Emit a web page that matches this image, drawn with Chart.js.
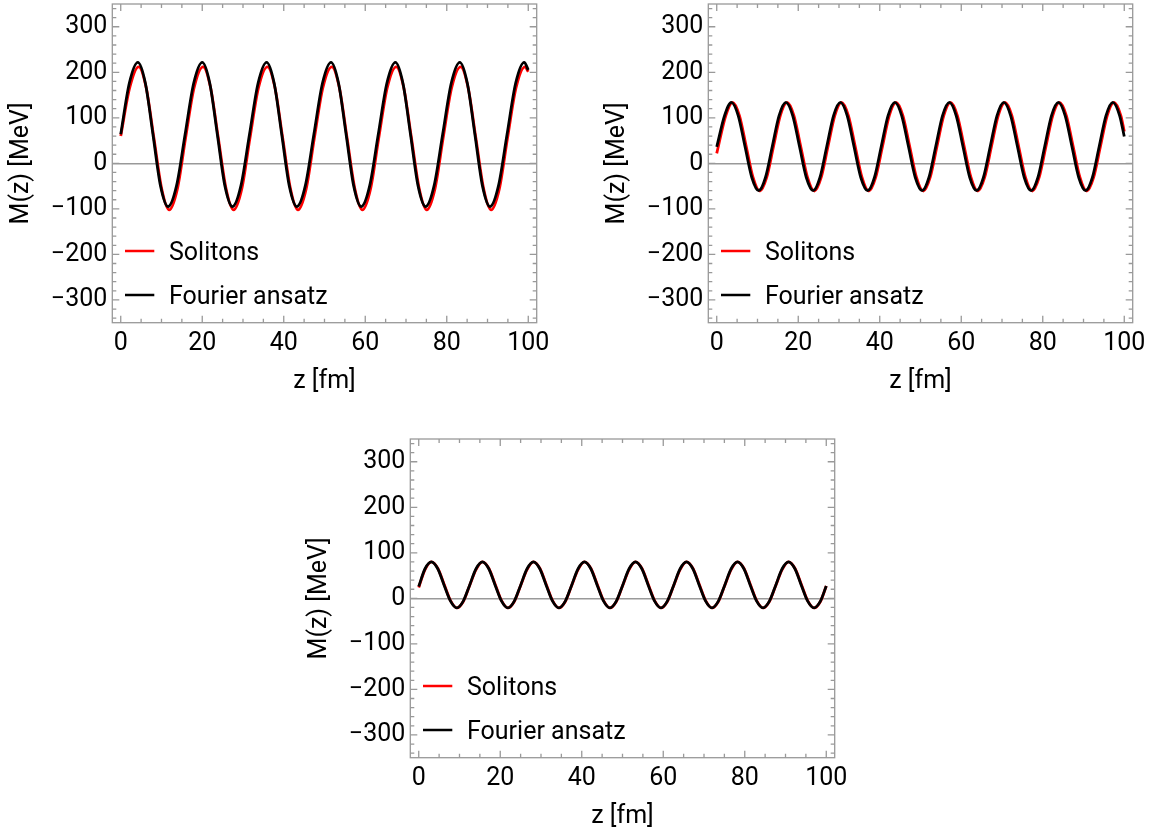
<!DOCTYPE html>
<html>
<head>
<meta charset="utf-8">
<script src="https://cdn.jsdelivr.net/npm/chart.js@4.4.1/dist/chart.umd.min.js"></script>
<style>
  html, body { margin: 0; padding: 0; background: #fff; }
  body { width: 1156px; height: 834px; overflow: hidden; position: relative; }
  canvas { position: absolute; }
</style>
</head>
<body>
<canvas id="panel1" width="560" height="398" style="left:0px;top:0px"></canvas>
<canvas id="panel2" width="560" height="398" style="left:596px;top:0px"></canvas>
<canvas id="panel3" width="560" height="398" style="left:298.4px;top:435.3px"></canvas>
<script>
// ticks
var xTickValues = [0, 5, 10, 15, 20, 25, 30, 35, 40, 45, 50, 55, 60, 65, 70, 75, 80, 85, 90, 95, 100];
var xLabelValues = [0, 20, 40, 60, 80, 100];
var yTickValues = [-340, -320, -300, -280, -260, -240, -220, -200, -180, -160, -140, -120, -100, -80, -60, -40, -20,
    0, 20, 40, 60, 80, 100, 120, 140, 160, 180, 200, 220, 240, 260, 280, 300, 320, 340];
var yLabelValues = [-300, -200, -100, 0, 100, 200, 300];

// panel 1 (top left)
var solitonsZ1 = [0, 2.2, 4.4,
    6.25, 8.15, 10.05, 11.9, 13.9, 15.9, 18.0, 20.2,
    22.05, 23.95, 25.85, 27.7, 29.7, 31.7, 33.8, 36.0,
    37.85, 39.75, 41.65, 43.5, 45.5, 47.5, 49.6, 51.8,
    53.65, 55.55, 57.45, 59.3, 61.3, 63.3, 65.4, 67.6,
    69.45, 71.35, 73.25, 75.1, 77.1, 79.1, 81.2, 83.4,
    85.25, 87.15, 89.05, 90.9, 92.9, 94.9, 97.0, 99.2,
    100];
var solitonsM1 = [60, 166, 212,
    166, 55, -56, -102, -56, 55, 166, 212,
    166, 55, -56, -102, -56, 55, 166, 212,
    166, 55, -56, -102, -56, 55, 166, 212,
    166, 55, -56, -102, -56, 55, 166, 212,
    166, 55, -56, -102, -56, 55, 166, 212,
    166, 55, -56, -102, -56, 55, 166, 212,
    201];
var fourierZ1 = [0, 2.1, 4.2,
    6.05, 7.9, 9.75, 11.6, 13.7, 15.8, 17.9, 20.0,
    21.85, 23.7, 25.55, 27.4, 29.5, 31.6, 33.7, 35.8,
    37.65, 39.5, 41.35, 43.2, 45.3, 47.4, 49.5, 51.6,
    53.45, 55.3, 57.15, 59.0, 61.1, 63.2, 65.3, 67.4,
    69.25, 71.1, 72.95, 74.8, 76.9, 79.0, 81.1, 83.2,
    85.05, 86.9, 88.75, 90.6, 92.7, 94.8, 96.9, 99.0,
    100];
var fourierM1 = [64, 176, 222,
    176, 64, -49, -95, -49, 64, 176, 222,
    176, 64, -49, -95, -49, 64, 176, 222,
    176, 64, -49, -95, -49, 64, 176, 222,
    176, 64, -49, -95, -49, 64, 176, 222,
    176, 64, -49, -95, -49, 64, 176, 222,
    176, 64, -49, -95, -49, 64, 176, 222,
    205];

// panel 2 (top right)
var solitonsZ2 = [0, 2.23, 3.9,
    5.57, 7.24, 8.91, 10.59, 12.26, 13.93, 15.60, 17.27,
    18.94, 20.61, 22.28, 23.96, 25.63, 27.30, 28.97, 30.64,
    32.31, 33.98, 35.65, 37.33, 39.00, 40.67, 42.34, 44.01,
    45.68, 47.35, 49.02, 50.70, 52.37, 54.04, 55.71, 57.38,
    59.05, 60.72, 62.39, 64.07, 65.74, 67.41, 69.08, 70.75,
    72.42, 74.09, 75.76, 77.44, 79.11, 80.78, 82.45, 84.12,
    85.79, 87.46, 89.13, 90.81, 92.48, 94.15, 95.82, 97.49,
    99.16, 100];
var solitonsM2 = [22, 105, 134,
    105, 37, -31, -61, -31, 37, 105, 134,
    105, 37, -31, -61, -31, 37, 105, 134,
    105, 37, -31, -61, -31, 37, 105, 134,
    105, 37, -31, -61, -31, 37, 105, 134,
    105, 37, -31, -61, -31, 37, 105, 134,
    105, 37, -31, -61, -31, 37, 105, 134,
    105, 37, -31, -61, -31, 37, 105, 134,
    105, 70];
var fourierZ2 = [0, 1.93, 3.6,
    5.27, 6.94, 8.61, 10.29, 11.96, 13.63, 15.30, 16.97,
    18.64, 20.31, 21.98, 23.66, 25.33, 27.00, 28.67, 30.34,
    32.01, 33.68, 35.35, 37.03, 38.70, 40.37, 42.04, 43.71,
    45.38, 47.05, 48.72, 50.40, 52.07, 53.74, 55.41, 57.08,
    58.75, 60.42, 62.09, 63.77, 65.44, 67.11, 68.78, 70.45,
    72.12, 73.79, 75.46, 77.14, 78.81, 80.48, 82.15, 83.82,
    85.49, 87.16, 88.83, 90.51, 92.18, 93.85, 95.52, 97.19,
    98.86, 100];
var fourierM2 = [36, 105, 134,
    105, 37, -31, -60, -31, 37, 105, 134,
    105, 37, -31, -60, -31, 37, 105, 134,
    105, 37, -31, -60, -31, 37, 105, 134,
    105, 37, -31, -60, -31, 37, 105, 134,
    105, 37, -31, -60, -31, 37, 105, 134,
    105, 37, -31, -60, -31, 37, 105, 134,
    105, 37, -31, -60, -31, 37, 105, 134,
    105, 59];

// panel 3 (bottom), both curves read at the same z
var zGrid3 = [0, 1.54, 3.1,
    4.67, 6.23, 7.8, 9.36, 10.93, 12.49, 14.06, 15.62,
    17.19, 18.75, 20.32, 21.88, 23.45, 25.01, 26.58, 28.14,
    29.71, 31.27, 32.84, 34.4, 35.97, 37.53, 39.1, 40.66,
    42.23, 43.79, 45.36, 46.92, 48.49, 50.05, 51.62, 53.18,
    54.75, 56.31, 57.88, 59.44, 61.01, 62.57, 64.14, 65.7,
    67.27, 68.83, 70.4, 71.96, 73.53, 75.09, 76.66, 78.22,
    79.79, 81.35, 82.92, 84.48, 86.05, 87.61, 89.18, 90.74,
    92.31, 93.87, 95.44, 97.0, 98.57, 100];
var solitonsM3 = [24, 63, 80,
    66, 31, -5, -21, -7, 28, 63, 80,
    66, 31, -5, -21, -7, 28, 63, 80,
    66, 31, -5, -21, -7, 28, 63, 80,
    66, 31, -5, -21, -7, 28, 63, 80,
    66, 31, -5, -21, -7, 28, 63, 80,
    66, 31, -5, -21, -7, 28, 63, 80,
    66, 31, -5, -21, -7, 28, 63, 80,
    66, 31, -5, -21, -7, 27];
var fourierM3 = [26, 65, 80,
    65, 29, -6, -21, -6, 29, 65, 80,
    65, 29, -6, -21, -6, 29, 65, 80,
    65, 29, -6, -21, -6, 29, 65, 80,
    65, 29, -6, -21, -6, 29, 65, 80,
    65, 29, -6, -21, -6, 29, 65, 80,
    65, 29, -6, -21, -6, 29, 65, 80,
    65, 29, -6, -21, -6, 29, 65, 80,
    65, 29, -6, -21, -6, 27];

Chart.defaults.font.family = "Roboto";
Chart.defaults.font.size = 25;
Chart.defaults.color = "#000";

function toPoints(zs, ms) {
    var pts = [];
    for (var i = 0; i < zs.length; i++) {
        pts.push({ x: zs[i], y: ms[i] });
    }
    return pts;
}

function numLabel(v) {
    return v < 0 ? "\u2212" + Math.abs(v) : String(v);
}

// frame with inward ticks on all four sides, like the original
var frameTicks = {
    id: "frameTicks",
    beforeDatasetsDraw: function(chart) {
        var ctx = chart.ctx;
        var a = chart.chartArea;
        var x = chart.scales.x;
        var y = chart.scales.y;
        ctx.save();
        ctx.strokeStyle = "#999";
        ctx.lineWidth = 1.3;
        ctx.strokeRect(a.left, a.top, a.right - a.left, a.bottom - a.top);
        ctx.beginPath();
        x.ticks.forEach(function(t) {
            var px = x.getPixelForValue(t.value);
            var len = t.label ? 7 : 4;
            ctx.moveTo(px, a.bottom);
            ctx.lineTo(px, a.bottom - len);
            ctx.moveTo(px, a.top);
            ctx.lineTo(px, a.top + len);
        });
        y.ticks.forEach(function(t) {
            var py = y.getPixelForValue(t.value);
            var len = t.label ? 7 : 4;
            ctx.moveTo(a.left, py);
            ctx.lineTo(a.left + len, py);
            ctx.moveTo(a.right, py);
            ctx.lineTo(a.right - len, py);
        });
        ctx.stroke();
        ctx.restore();
    }
};

// legend drawn inside the plot, lower left
var innerLegend = {
    id: "innerLegend",
    afterDatasetsDraw: function(chart) {
        var ctx = chart.ctx;
        var a = chart.chartArea;
        ctx.save();
        chart.data.datasets.forEach(function(ds, i) {
            var ly = a.top + 247 + i * 44;
            ctx.strokeStyle = ds.borderColor;
            ctx.lineWidth = 2.5;
            ctx.beginPath();
            ctx.moveTo(a.left + 12.7, ly);
            ctx.lineTo(a.left + 42, ly);
            ctx.stroke();
            ctx.fillStyle = "#000";
            ctx.font = "25px Roboto";
            ctx.textAlign = "left";
            ctx.textBaseline = "middle";
            ctx.fillText(ds.label, a.left + 56.7, ly + 3);
        });
        ctx.restore();
    }
};

function makePanel(id, solZ, solM, fouZ, fouM) {
    var ctx = document.getElementById(id).getContext("2d");
    return new Chart(ctx, {
        type: "line",
        data: {
            datasets: [{
                    label: "Solitons",
                    data: toPoints(solZ, solM),
                    borderColor: "#ff0000",
                    borderWidth: 2.8,
                    order: 1
                },
                {
                    label: "Fourier ansatz",
                    data: toPoints(fouZ, fouM),
                    borderColor: "#000000",
                    borderWidth: 2.8,
                    order: 0
                }
            ]
        },
        options: {
            responsive: false,
            animation: false,
            events: [],
            elements: {
                point: { radius: 0 },
                line: { cubicInterpolationMode: "monotone", fill: false }
            },
            layout: { padding: { top: 4, right: 23.3, left: 0, bottom: 0 } },
            plugins: {
                legend: { display: false },
                tooltip: { enabled: false }
            },
            scales: {
                x: {
                    type: "linear",
                    min: -2.07,
                    max: 102.07,
                    afterBuildTicks: function(scale) {
                        scale.ticks = xTickValues.map(function(v) { return { value: v }; });
                    },
                    afterFit: function(scale) {
                        scale.height = 75.3;
                        scale.paddingLeft = 0;
                        scale.paddingRight = 0;
                    },
                    ticks: {
                        autoSkip: false,
                        maxRotation: 0,
                        padding: 6,
                        callback: function(v) {
                            return xLabelValues.indexOf(v) >= 0 ? numLabel(v) : "";
                        }
                    },
                    grid: { display: false, drawTicks: false },
                    border: { display: false },
                    title: { display: true, text: "z [fm]", padding: { top: 0, bottom: 1 } }
                },
                y: {
                    type: "linear",
                    min: -350,
                    max: 350,
                    afterBuildTicks: function(scale) {
                        scale.ticks = yTickValues.map(function(v) { return { value: v }; });
                    },
                    afterFit: function(scale) {
                        scale.width = 112.3;
                        scale.paddingTop = 0;
                        scale.paddingBottom = 0;
                    },
                    ticks: {
                        autoSkip: false,
                        padding: 5,
                        callback: function(v) {
                            return yLabelValues.indexOf(v) >= 0 ? numLabel(v) : "";
                        }
                    },
                    grid: {
                        drawTicks: false,
                        lineWidth: 1.5,
                        color: function(c) {
                            return c.tick && c.tick.value === 0 ? "#999" : "rgba(0,0,0,0)";
                        }
                    },
                    border: { display: false },
                    title: { display: true, text: "M(z) [MeV]", padding: { top: 6.5, bottom: 0 } }
                }
            }
        },
        plugins: [frameTicks, innerLegend]
    });
}

makePanel("panel1", solitonsZ1, solitonsM1, fourierZ1, fourierM1);
makePanel("panel2", solitonsZ2, solitonsM2, fourierZ2, fourierM2);
makePanel("panel3", zGrid3, solitonsM3, zGrid3, fourierM3);
</script>
</body>
</html>
